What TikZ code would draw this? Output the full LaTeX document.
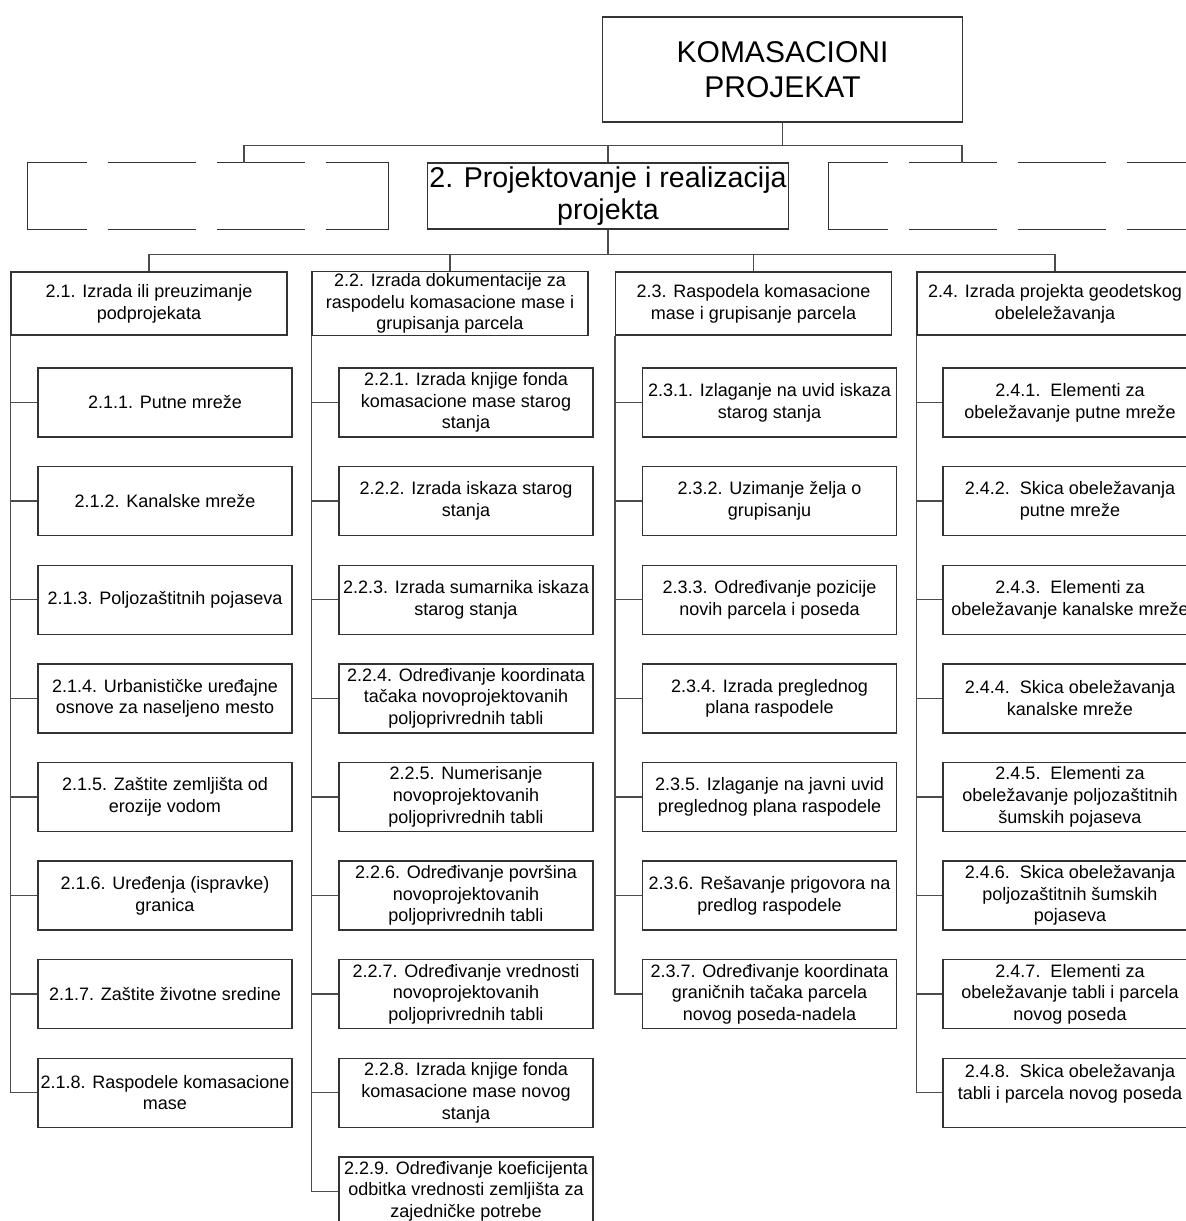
\documentclass[tikz,border=0pt]{standalone}
\usepackage{fontspec}
\setmainfont{Liberation Sans}
\begin{document}
\begin{tikzpicture}[x=0.5pt,y=-0.5pt,
  box/.style={draw=black!80, line width=0.7pt, align=center, inner sep=1pt, font=\fontsize{9}{10.85}\selectfont},
  topbox/.style={box, minimum width=180pt, minimum height=52.5pt, font=\fontsize{15}{17.2}\selectfont},
  projbox/.style={box, minimum width=179pt, minimum height=33pt, font=\fontsize{14.3}{16.2}\selectfont},
  edgeline/.style={draw=black!80, line width=0.7pt, line cap=rect},
  dashline/.style={edgeline, line cap=butt, dash pattern=on 44pt off 10.5pt, dash phase=14.5pt},
  emptybox/.style={minimum width=180pt, minimum height=33pt,
    append after command={(\tikzlastnode.north west) edge[dashline] (\tikzlastnode.north east)
      (\tikzlastnode.south west) edge[dashline] (\tikzlastnode.south east)
      (\tikzlastnode.south west) edge[edgeline] (\tikzlastnode.north west)
      (\tikzlastnode.south east) edge[edgeline] (\tikzlastnode.north east)}},
  groupbox/.style={box, minimum width=138pt, minimum height=31.5pt},
  taskbox/.style={box, minimum width=127pt, minimum height=34.5pt},
  conn/.style={draw=black!70, line width=0.7pt}]
\clip (0,0) rectangle (1186,1221);
\fill[white] (0,0) rectangle (1186,1221);

% top levels
\node[topbox] (root) at (782.5,69.5) {KOMASACIONI\\PROJEKAT};
\node[emptybox] (emptyL) at (208,196) {};
\node[projbox] (proj) at (608,196) {2. Projektovanje i realizacija\\projekta};
\node[emptybox] (emptyR) at (1009,196) {};

\node[groupbox] (g1) at (149,303.5) {2.1. Izrada ili preuzimanje\\podprojekata};
\node[groupbox] (g2) at (450,303.5) {2.2. Izrada dokumentacije za\\raspodelu komasacione mase i\\grupisanja parcela};
\node[groupbox] (g3) at (753.5,303.5) {2.3. Raspodela komasacione\\mase i grupisanje parcela};
\node[groupbox] (g4) at (1055,303.5) {2.4. Izrada projekta geodetskog\\obeleležavanja};

% 2.1
\node[taskbox] (t11) at (165,402.5) {2.1.1. Putne mreže};
\node[taskbox] (t12) at (165,501.1) {2.1.2. Kanalske mreže};
\node[taskbox] (t13) at (165,599.7) {2.1.3. Poljozaštitnih pojaseva};
\node[taskbox] (t14) at (165,698.3) {2.1.4. Urbanističke uređajne\\osnove za naseljeno mesto};
\node[taskbox] (t15) at (165,796.9) {2.1.5. Zaštite zemljišta od\\erozije vodom};
\node[taskbox] (t16) at (165,895.5) {2.1.6. Uređenja (ispravke)\\granica};
\node[taskbox] (t17) at (165,994.1) {2.1.7. Zaštite životne sredine};
\node[taskbox] (t18) at (165,1092.7) {2.1.8. Raspodele komasacione\\mase};

% 2.2
\node[taskbox] (t21) at (466,402.5) {2.2.1. Izrada knjige fonda\\komasacione mase starog\\stanja};
\node[taskbox] (t22) at (466,501.1) {2.2.2. Izrada iskaza starog\\stanja};
\node[taskbox] (t23) at (466,599.7) {2.2.3. Izrada sumarnika iskaza\\starog stanja};
\node[taskbox] (t24) at (466,698.3) {2.2.4. Određivanje koordinata\\tačaka novoprojektovanih\\poljoprivrednih tabli};
\node[taskbox] (t25) at (466,796.9) {2.2.5. Numerisanje\\novoprojektovanih\\poljoprivrednih tabli};
\node[taskbox] (t26) at (466,895.5) {2.2.6. Određivanje površina\\novoprojektovanih\\poljoprivrednih tabli};
\node[taskbox] (t27) at (466,994.1) {2.2.7. Određivanje vrednosti\\novoprojektovanih\\poljoprivrednih tabli};
\node[taskbox] (t28) at (466,1092.7) {2.2.8. Izrada knjige fonda\\komasacione mase novog\\stanja};
\node[taskbox] (t29) at (466,1191.3) {2.2.9. Određivanje koeficijenta\\odbitka vrednosti zemljišta za\\zajedničke potrebe};

% 2.3
\node[taskbox] (t31) at (769.5,402.5) {2.3.1. Izlaganje na uvid iskaza\\starog stanja};
\node[taskbox] (t32) at (769.5,501.1) {2.3.2. Uzimanje želja o\\grupisanju};
\node[taskbox] (t33) at (769.5,599.7) {2.3.3. Određivanje pozicije\\novih parcela i poseda};
\node[taskbox] (t34) at (769.5,698.3) {2.3.4. Izrada preglednog\\plana raspodele};
\node[taskbox] (t35) at (769.5,796.9) {2.3.5. Izlaganje na javni uvid\\preglednog plana raspodele};
\node[taskbox] (t36) at (769.5,895.5) {2.3.6. Rešavanje prigovora na\\predlog raspodele};
\node[taskbox] (t37) at (769.5,994.1) {2.3.7. Određivanje koordinata\\graničnih tačaka parcela\\novog poseda-nadela};

% 2.4
\node[taskbox] (t41) at (1070,402.5) {2.4.1.\ \ Elementi za\\obeležavanje putne mreže};
\node[taskbox] (t42) at (1070,501.1) {2.4.2.\ \ Skica obeležavanja\\putne mreže};
\node[taskbox] (t43) at (1070,599.7) {2.4.3.\ \ Elementi za\\obeležavanje kanalske mreže};
\node[taskbox] (t44) at (1070,698.3) {2.4.4.\ \ Skica obeležavanja\\kanalske mreže};
\node[taskbox] (t45) at (1070,796.9) {2.4.5.\ \ Elementi za\\obeležavanje poljozaštitnih\\šumskih pojaseva};
\node[taskbox] (t46) at (1070,895.5) {2.4.6.\ \ Skica obeležavanja\\poljozaštitnih šumskih\\pojaseva};
\node[taskbox] (t47) at (1070,994.1) {2.4.7.\ \ Elementi za\\obeležavanje tabli i parcela\\novog poseda};
\node[taskbox] (t48) at (1070,1092.7) {2.4.8.\ \ Skica obeležavanja\\tabli i parcela novog poseda\\\mbox{}};

% connectors
\draw[conn] (root.south) -- ++(0,23) coordinate (bus1);
\draw[conn] ([xshift=18pt]emptyL.north) |- (bus1) -| ([xshift=-23.5pt]emptyR.north);
\draw[conn] (proj.north) -- (proj.north |- bus1);
\draw[conn] (proj.south) -- ++(0,25) coordinate (bus2);
\draw[conn] (g1.north) |- (bus2) -| (g4.north);
\draw[conn] (g2.north) -- (g2.north |- bus2);
\draw[conn] (g3.north) -- (g3.north |- bus2);

\draw[conn] (g1.south west) |- (t11.west) (g1.south west) |- (t12.west) (g1.south west) |- (t13.west) (g1.south west) |- (t14.west)
  (g1.south west) |- (t15.west) (g1.south west) |- (t16.west) (g1.south west) |- (t17.west) (g1.south west) |- (t18.west);
\draw[conn] (g2.south west) |- (t21.west) (g2.south west) |- (t22.west) (g2.south west) |- (t23.west) (g2.south west) |- (t24.west)
  (g2.south west) |- (t25.west) (g2.south west) |- (t26.west) (g2.south west) |- (t27.west) (g2.south west) |- (t28.west)
  (g2.south west) |- (t29.west);
\draw[conn] (g3.south west) |- (t31.west) (g3.south west) |- (t32.west) (g3.south west) |- (t33.west) (g3.south west) |- (t34.west)
  (g3.south west) |- (t35.west) (g3.south west) |- (t36.west) (g3.south west) |- (t37.west);
\draw[conn] (g4.south west) |- (t41.west) (g4.south west) |- (t42.west) (g4.south west) |- (t43.west) (g4.south west) |- (t44.west)
  (g4.south west) |- (t45.west) (g4.south west) |- (t46.west) (g4.south west) |- (t47.west) (g4.south west) |- (t48.west);
\end{tikzpicture}
\end{document}
